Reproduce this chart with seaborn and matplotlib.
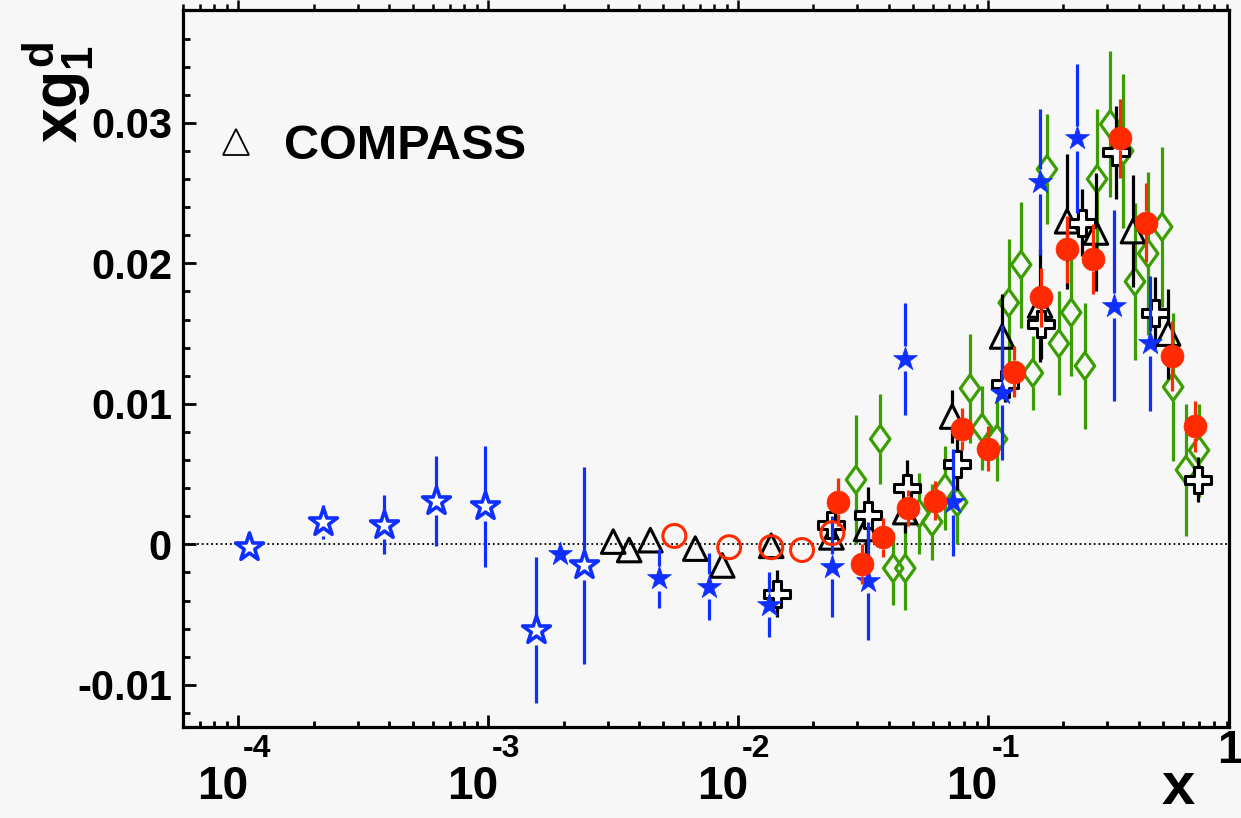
import numpy as np
import pandas as pd
import matplotlib
matplotlib.use("Agg")
import matplotlib.pyplot as plt
import matplotlib.transforms as mtrans
from matplotlib.path import Path
from matplotlib.lines import Line2D
from matplotlib.ticker import FixedLocator, LogLocator, MultipleLocator, NullFormatter
import seaborn as sns

# ---------------- data ----------------
# COMPASS : open black triangles
compass_x = [3.16e-3, 3.66e-3, 4.45e-3, 6.73e-3, 8.63e-3, 1.355e-2, 2.36e-2, 3.25e-2,
             4.66e-2, 7.18e-2, 0.1138, 0.1614, 0.207, 0.270, 0.380, 0.525]
compass_y = [0.0002, -0.0004, 0.0003, -0.0003, -0.0015, -0.0001, 0.0005, 0.0011,
             0.0023, 0.0091, 0.0148, 0.0170, 0.0230, 0.0222, 0.0223, 0.0150]
compass_err = [0.0003, 0.0003, 0.0003, 0.0003, 0.0004, 0.0004, 0.0008, 0.0018,
               0.0015, 0.0019, 0.0030, 0.0040, 0.0048, 0.0042, 0.0040, 0.0032]

# open black crosses
cross_x = [1.43e-2, 2.36e-2, 3.31e-2, 4.74e-2, 7.52e-2, 0.117, 0.163, 0.2377, 0.325, 0.4656, 0.692]
cross_y = [-0.0035, 0.0014, 0.0021, 0.0040, 0.0057, 0.0114, 0.0157, 0.0229, 0.0279, 0.0165, 0.0046]
cross_err = [0.0017, 0.0008, 0.0020, 0.0020, 0.0018, 0.0013, 0.0025, 0.0024, 0.0033, 0.0025, 0.0016]

# filled red circles
redf_x = [2.51e-2, 3.13e-2, 3.80e-2, 4.79e-2, 6.14e-2, 7.87e-2, 0.100, 0.127,
          0.163, 0.207, 0.263, 0.337, 0.428, 0.545, 0.673]
redf_y = [0.0030, -0.0014, 0.0005, 0.0026, 0.0031, 0.0082, 0.0068, 0.0123,
          0.0176, 0.0210, 0.0203, 0.0289, 0.0229, 0.0134, 0.0084]
redf_err = [0.0017, 0.0014, 0.0014, 0.0013, 0.0014, 0.0015, 0.0016, 0.0018,
            0.0021, 0.0024, 0.0025, 0.0028, 0.0028, 0.0025, 0.0018]

# open red circles
redo_x = [5.55e-3, 9.2e-3, 1.355e-2, 1.80e-2, 2.38e-2]
redo_y = [0.0006, -0.0002, -0.0002, -0.0004, 0.0008]
redo_err = [0.0003, 0.0003, 0.0003, 0.0003, 0.0003]

# open blue stars
bluo_x = [1.10e-4, 2.17e-4, 3.84e-4, 6.19e-4, 9.73e-4, 1.556e-3, 2.42e-3]
bluo_y = [-0.0002, 0.0016, 0.0014, 0.0031, 0.0027, -0.0061, -0.0015]
bluo_err = [0.0003, 0.0012, 0.0021, 0.0032, 0.0043, 0.0052, 0.0070]

# filled blue stars
bluf_x = [1.94e-3, 4.83e-3, 7.66e-3, 1.33e-2, 2.38e-2, 3.31e-2, 4.66e-2,
          7.24e-2, 0.114, 0.1614, 0.227, 0.319, 0.445]
bluf_y = [-0.0007, -0.0024, -0.0030, -0.0043, -0.0016, -0.0026, 0.0132,
          0.0030, 0.0108, 0.0258, 0.0289, 0.0170, 0.0143]
bluf_err = [0.0009, 0.0021, 0.0024, 0.0023, 0.0036, 0.0042, 0.0040,
            0.0038, 0.0048, 0.0052, 0.0053, 0.0068, 0.0048]

# open green diamonds
green_x = [2.96e-2, 3.70e-2, 4.17e-2, 4.66e-2, 5.30e-2, 5.97e-2, 6.73e-2, 7.52e-2,
           8.47e-2, 9.46e-2, 0.1086, 0.121, 0.1355, 0.151, 0.172, 0.192, 0.215,
           0.244, 0.273, 0.308, 0.347, 0.387, 0.437, 0.497, 0.550, 0.619, 0.698]
green_y = [0.0046, 0.0075, -0.0017, -0.0017, 0.0022, 0.0016, 0.0040, 0.0030,
           0.0111, 0.0083, 0.0075, 0.0172, 0.0199, 0.0122, 0.0267, 0.0143, 0.0165,
           0.0127, 0.0260, 0.0299, 0.0280, 0.0187, 0.0207, 0.0226, 0.0112, 0.0053, 0.0067]
green_err = [0.0046, 0.0032, 0.0026, 0.0030, 0.0029, 0.0027, 0.0030, 0.0030,
             0.0039, 0.0030, 0.0030, 0.0045, 0.0045, 0.0026, 0.0039, 0.0037, 0.0045,
             0.0045, 0.0050, 0.0052, 0.0055, 0.0056, 0.0058, 0.0057, 0.0053, 0.0047, 0.0033]

y_ticks = [-0.01, 0.0, 0.01, 0.02, 0.03]
y_tick_labels = ["-0.01", "0", "0.01", "0.02", "0.03"]
x_decade_exps = [-4, -3, -2, -1]
legend_label = "COMPASS"

# ---------------- style ----------------
sns.set_style("ticks")
plt.rcParams['font.family'] = ['Liberation Sans', 'DejaVu Sans']
plt.rcParams['font.weight'] = 'bold'
plt.rcParams['text.color'] = 'black'
plt.rcParams['axes.labelcolor'] = 'black'
plt.rcParams['xtick.color'] = 'black'
plt.rcParams['ytick.color'] = 'black'
plt.rcParams['axes.edgecolor'] = 'black'
plt.rcParams['mathtext.fontset'] = 'custom'
plt.rcParams['mathtext.rm'] = 'Liberation Sans:bold'
plt.rcParams['mathtext.it'] = 'Liberation Sans:bold'
plt.rcParams['mathtext.bf'] = 'Liberation Sans:bold'

BG = '#f7f7f7'
BLUE = '#0f2fff'
RED = '#ff2a00'
GREEN = '#3a9e00'

FW, FH, DPI = 12.41, 8.18, 100
fig = plt.figure(figsize=(FW, FH), dpi=DPI, facecolor=BG)
pos = [0.1475, 0.1112, 0.8428, 0.876]
ax = fig.add_axes(pos)
ax.set_facecolor(BG)
ax.set_xscale('log')
XLIM = (6.0e-5, 0.92)
YLIM = (-0.013, 0.038)
ax.set_xlim(*XLIM)
ax.set_ylim(*YLIM)

ax_h_px = pos[3] * FH * DPI
y_per_px = (YLIM[1] - YLIM[0]) / ax_h_px

diamond = Path([(0, 1), (0.72, 0), (0, -1), (-0.72, 0), (0, 1)],
               [Path.MOVETO, Path.LINETO, Path.LINETO, Path.LINETO, Path.CLOSEPOLY])


def draw_series(x, y, err, color, marker, ms, fc, ec, mew, z, elw=2.3, gap_scale=1.0):
    x = np.asarray(x, float)
    y = np.asarray(y, float)
    e = np.asarray(err, float)
    g = ms * DPI / 72.0 / 2.0 * y_per_px * gap_scale
    lo_top = np.maximum(y - g, y - e)
    hi_bot = np.minimum(y + g, y + e)
    ax.vlines(x, y - e, lo_top, colors=color, lw=elw, zorder=z, capstyle='butt')
    ax.vlines(x, hi_bot, y + e, colors=color, lw=elw, zorder=z, capstyle='butt')
    df = pd.DataFrame({'x': x, 'y': y})
    sns.scatterplot(data=df, x='x', y='y', ax=ax, marker=marker, s=ms ** 2,
                    facecolor=fc, edgecolor=ec, linewidth=mew, zorder=z + 0.5,
                    legend=False)


draw_series(green_x, green_y, green_err, GREEN, diamond, 19.5, 'none', GREEN, 2.3, 3)
draw_series(compass_x, compass_y, compass_err, 'k', '^', 17, 'none', 'k', 2.2, 4)
draw_series(cross_x, cross_y, cross_err, 'k', 'P', 19, 'white', 'k', 2.2, 5)
draw_series(bluo_x, bluo_y, bluo_err, BLUE, '*', 21, 'white', BLUE, 2.6, 6)
draw_series(bluf_x, bluf_y, bluf_err, BLUE, '*', 18, BLUE, BLUE, 0.5, 6.2)
draw_series(redo_x, redo_y, redo_err, RED, 'o', 16.5, 'none', RED, 2.2, 7)
draw_series(redf_x, redf_y, redf_err, RED, 'o', 16.5, RED, RED, 0.5, 8)

ax.axhline(0, color='k', lw=1.3, ls=(0, (1, 1.6)), zorder=2)

ax.set_xlim(*XLIM)
ax.set_ylim(*YLIM)
ax.set_xlabel('')
ax.set_ylabel('')

# top ticks (pointing outward) via a twin axis
ax2 = ax.twiny()
ax2.set_xscale('log')
ax2.set_xlim(*XLIM)
for s in ax2.spines.values():
    s.set_visible(False)
ax2.xaxis.set_major_locator(LogLocator(base=10, numticks=20))
ax2.xaxis.set_minor_locator(LogLocator(base=10, subs=np.arange(2, 10), numticks=20))
ax2.xaxis.set_minor_formatter(NullFormatter())
ax2.tick_params(axis='x', which='major', direction='out', length=7, width=1.8,
                top=True, bottom=False, labeltop=False, labelbottom=False, color='k')
ax2.tick_params(axis='x', which='minor', direction='out', length=4, width=1.8,
                top=True, bottom=False, labeltop=False, color='k')

# main axes ticks
ax.xaxis.set_major_locator(LogLocator(base=10, numticks=20))
ax.xaxis.set_minor_locator(LogLocator(base=10, subs=np.arange(2, 10), numticks=20))
ax.xaxis.set_minor_formatter(NullFormatter())
ax.tick_params(axis='x', which='major', direction='in', length=9, width=2,
               bottom=True, top=False, labelbottom=False, labeltop=False, color='k')
ax.tick_params(axis='x', which='minor', direction='in', length=4.5, width=2,
               bottom=True, top=False, color='k')
ax.yaxis.set_major_locator(FixedLocator(y_ticks))
ax.set_yticklabels(y_tick_labels)
ax.yaxis.set_minor_locator(MultipleLocator(0.002))
ax.tick_params(axis='y', which='major', direction='in', length=9, width=2,
               left=True, right=False, labelsize=30, pad=8, color='k', labelcolor='k')
ax.tick_params(axis='y', which='minor', direction='in', length=5, width=2,
               left=True, right=False, color='k')
for lab in ax.get_yticklabels():
    lab.set_fontweight('bold')
for s in ax.spines.values():
    s.set_visible(True)
    s.set_linewidth(2.3)
    s.set_color('k')

# x tick labels in ROOT style: "10" with raised exponent
xtr = mtrans.blended_transform_factory(ax.transData, ax.transAxes)
for e in x_decade_exps:
    t1 = mtrans.offset_copy(xtr, fig=fig, x=-16, y=0, units='dots')
    ax.text(10.0 ** e, -0.083, '10', transform=t1, ha='center', va='center',
            fontsize=33, fontweight='bold', color='k', clip_on=False)
    t2 = mtrans.offset_copy(xtr, fig=fig, x=18, y=0, units='dots')
    ax.text(10.0 ** e, -0.031, str(e), transform=t2, ha='center', va='center',
            fontsize=23, fontweight='bold', color='k', clip_on=False)
t3 = mtrans.offset_copy(xtr, fig=fig, x=-8, y=0, units='dots')
ax.text(1.0, -0.034, '1', transform=t3, ha='center', va='center',
        fontsize=33, fontweight='bold', color='k', clip_on=False)

# axis titles
fig.text(1178 / 1241, 1 - 789 / 818, 'x', ha='center', va='center',
         fontsize=43, fontweight='bold', color='k')
fig.text(58 / 1241, 1 - 92 / 818, r'$xg_1^d$', ha='center', va='center',
         rotation=90, fontsize=45, color='k')

# legend
handle = Line2D([], [], marker='^', ls='none', mfc='none', mec='k', ms=19, mew=1.3)
ax.legend(handles=[handle], labels=[legend_label], loc='center left',
          bbox_to_anchor=(0.027, 0.810), frameon=False, handlelength=1.0,
          handletextpad=0.5, borderpad=0, borderaxespad=0, labelcolor='k',
          prop={'weight': 'bold', 'size': 35, 'family': 'Liberation Sans'})

fig.savefig('out.png', dpi=DPI, facecolor=BG)
